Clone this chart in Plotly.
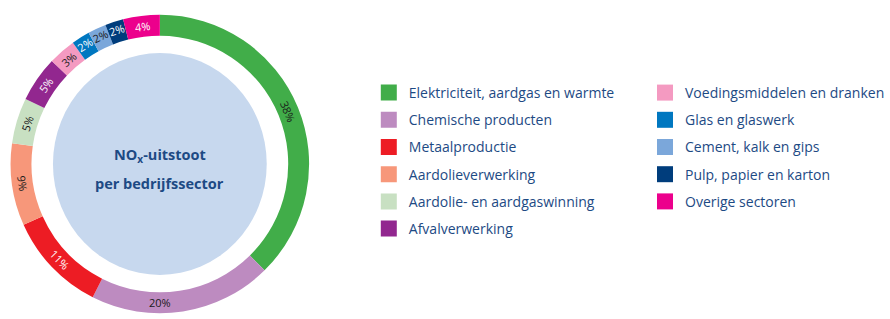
import plotly.graph_objects as go

sectors = [
    "Elektriciteit, aardgas en warmte",
    "Chemische producten",
    "Metaalproductie",
    "Aardolieverwerking",
    "Aardolie- en aardgaswinning",
    "Afvalverwerking",
    "Voedingsmiddelen en dranken",
    "Glas en glaswerk",
    "Cement, kalk en gips",
    "Pulp, papier en karton",
    "Overige sectoren",
]
shares = [38, 20, 11, 9, 5, 5, 3, 2, 2, 2, 4]
share_labels = ["38%", "20%", "11%", "9%", "5%", "5%", "3%", "2%", "2%", "2%", "4%"]

colors = ["#41ad49", "#bd8bc0", "#ed1c24", "#f7977a", "#c8e0c2", "#92278f",
          "#f49ac1", "#0077c0", "#7ba7da", "#003d7c", "#ec008c"]
label_colors = ["#1a1a1a", "#1a1a1a", "#ffffff", "#1a1a1a", "#1a1a1a", "#ffffff",
                "#1a1a1a", "#ffffff", "#1a1a1a", "#ffffff", "#ffffff"]

W, H = 890, 319
cx, cy, R = 166, 164, 155

fig = go.Figure()
fig.add_trace(go.Pie(
    labels=sectors, values=shares, text=share_labels, textinfo="text",
    sort=False, direction="clockwise", rotation=0, hole=0.86,
    marker=dict(colors=colors, line=dict(width=0)),
    textfont=dict(family="Open Sans", size=11, color=label_colors),
    insidetextorientation="tangential", textposition="inside",
    showlegend=False, hoverinfo="label+text",
    domain=dict(x=[(cx - R) / W, (cx + R) / W], y=[(H - cy - R) / H, (H - cy + R) / H]),
))

for i, (name, col) in enumerate(zip(sectors, colors)):
    fig.add_trace(go.Scatter(
        x=[None], y=[None], mode="markers", name=name, legendgroup=name,
        marker=dict(symbol="square", size=16, color=col),
        legend="legend" if i < 6 else "legend2",
    ))

r_in = 111
fig.add_shape(type="circle", xref="paper", yref="paper",
              x0=(cx - r_in) / W, x1=(cx + r_in) / W,
              y0=(H - cy - r_in) / H, y1=(H - cy + r_in) / H,
              fillcolor="#c7d8ee", line=dict(width=0), layer="above")

title_font = dict(family="Open Sans", size=14.5, color="#1d4a84")
fig.add_annotation(x=cx / W, y=1 - 155 / H, xref="paper", yref="paper",
                   xanchor="center", yanchor="middle",
                   text="<b>NO<sub>x</sub>-uitstoot</b>", showarrow=False, font=title_font)
fig.add_annotation(x=cx / W, y=1 - 183 / H, xref="paper", yref="paper",
                   xanchor="center", yanchor="middle",
                   text="<b>per bedrijfssector</b>", showarrow=False, font=title_font)

leg_font = dict(family="Open Sans", size=14, color="#1d4a84")
fig.update_layout(
    width=W, height=H, margin=dict(l=0, r=0, t=0, b=0),
    paper_bgcolor="white", plot_bgcolor="white",
    xaxis=dict(visible=False), yaxis=dict(visible=False),
    legend=dict(x=383 / W, y=1 - 77 / H, xanchor="left", yanchor="top",
                font=leg_font, traceorder="grouped", tracegroupgap=6,
                bgcolor="rgba(0,0,0,0)"),
    legend2=dict(x=670 / W, y=1 - 77 / H, xanchor="left", yanchor="top",
                 font=leg_font, traceorder="grouped", tracegroupgap=6,
                 bgcolor="rgba(0,0,0,0)"),
)

fig.write_html("out.html", config={"displayModeBar": False},
               post_script="document.body.style.margin='0';document.body.style.overflow='hidden';")
